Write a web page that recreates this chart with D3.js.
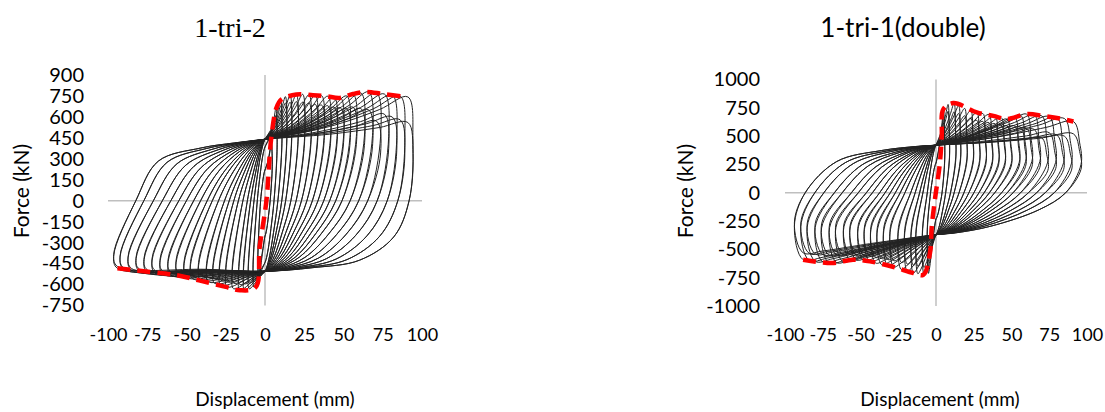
<!DOCTYPE html>
<html>
<head>
<meta charset="utf-8">
<script src="https://cdn.jsdelivr.net/npm/d3@7"></script>
<style>
  body { margin: 0; background: #fff; }
  text { font-family: Lato, "Liberation Sans", sans-serif; fill: #000; }
  .title-serif { font-family: "Liberation Serif", "Times New Roman", serif; }
</style>
</head>
<body>
<div id="chart"></div>
<script>
// tick labels
var dispTicks = [-100, -75, -50, -25, 0, 25, 50, 75, 100];
var tri2ForceTicks = [900, 750, 600, 450, 300, 150, 0, -150, -300, -450, -600, -750];
var tri1ForceTicks = [1000, 750, 500, 250, 0, -250, -500, -750, -1000];

// 1-tri-2 : cycle peaks (mm, kN)
var tri2PosDisp  = [4, 4, 7, 7, 10, 10, 13, 13, 16, 16, 20, 20, 24, 24, 28, 28, 32, 32, 36, 36, 40, 40, 44, 44, 48, 48, 52, 52, 56, 56, 61, 61, 66, 66, 71, 71, 76, 76, 81, 81, 86, 86, 91, 91];
var tri2PosForce = [430, 410, 665, 610, 724, 680, 745, 700, 755, 705, 760, 710, 762, 705, 758, 700, 755, 690, 752, 685, 748, 680, 742, 670, 738, 665, 750, 660, 764, 670, 772, 660, 779, 650, 770, 570, 764, 620, 756, 600, 750, 580, 743, 560];
var tri2NegDisp  = [-4, -4, -7, -7, -10, -10, -13, -13, -16, -16, -20, -20, -24, -24, -28, -28, -32, -32, -36, -36, -41, -41, -46, -46, -50, -50, -55, -55, -60, -60, -65, -65, -70, -70, -75, -75, -80, -80, -85, -85, -90, -90, -94, -94];
var tri2NegForce = [-560, -520, -620, -580, -630, -590, -640, -595, -641, -600, -630, -590, -617, -580, -605, -570, -592, -560, -580, -550, -568, -540, -558, -530, -548, -525, -538, -515, -532, -510, -525, -505, -518, -500, -512, -495, -505, -490, -498, -485, -490, -480, -484, -470];
var tri2Pinch = [440, -505];
// skeleton (red dashed)
var tri2EnvDisp  = [-94, -73, -56, -42, -25, -16, -6, -3.4, 0.9, 4, 7.3, 10.4, 20, 30.6, 39, 47.6, 56, 64.6, 75, 90];
var tri2EnvForce = [-484, -510, -534, -570, -617, -641, -620, -332, 0, 451, 665, 724, 760, 755, 748, 736, 764, 779, 764, 743];

// 1-tri-1(double)
var tri1PosDisp  = [5, 5, 8, 8, 12, 12, 15, 15, 19, 19, 23, 23, 27, 27, 31, 31, 35, 35, 39, 39, 43, 43, 47, 47, 52, 52, 56, 56, 60, 60, 65, 65, 70, 70, 75, 75, 80, 80, 85, 85, 91, 91];
var tri1PosForce = [738, 680, 780, 720, 792, 715, 770, 700, 745, 680, 725, 660, 709, 640, 700, 630, 690, 620, 679, 610, 665, 600, 650, 590, 670, 590, 685, 580, 694, 570, 688, 560, 679, 485, 672, 530, 664, 510, 656, 500, 629, 520];
var tri1NegDisp  = [-5, -5, -8, -8, -12, -12, -15, -15, -19, -19, -23, -23, -28, -28, -32, -32, -36, -36, -40, -40, -44, -44, -48, -48, -53, -53, -57, -57, -62, -62, -66, -66, -71, -71, -75, -75, -80, -80, -84, -84, -88, -88];
var tri1NegForce = [-712, -650, -724, -660, -715, -650, -709, -640, -695, -630, -678, -615, -656, -600, -645, -590, -635, -580, -620, -570, -608, -560, -600, -555, -592, -550, -595, -545, -605, -545, -615, -550, -621, -550, -612, -545, -605, -540, -598, -535, -591, -530];
var tri1Pinch = [420, -370];
var tri1EnvDisp  = [-88, -69, -55, -43.7, -28, -15, -8.4, -4, -2.8, -0.7, 2.6, 3.8, 4.9, 11.5, 27, 38, 46.8, 60, 71, 82, 91];
var tri1EnvForce = [-591, -621, -591, -606, -656, -709, -724, -532, -296, -59, 266, 502, 738, 792, 709, 679, 650, 694, 679, 656, 629];

var svgWidth = 1105;
var svgHeight = 412;

var svg = d3.select("#chart")
  .append("svg")
  .attr("width", svgWidth)
  .attr("height", svgHeight);

// small cycles are slim and slanted, the biggest ones get rounder
function mix(a, b, w) { return a + (b - a) * w; }

// loop outline for one cycle, built from its peaks and the pinch points
function tri2Loop(P, Fp, N, Fn, ft, fb) {
  var wp = Math.pow(Math.min(1, P / 95), 2.5);
  var wn = Math.pow(Math.min(1, -N / 95), 2.5);
  var zp = mix(0.82, 1.03, wp) * P;   // where unloading crosses zero
  var zn = mix(0.7, 0.88, wn) * N;    // where reloading crosses zero
  return [
    [0, ft],
    [0.45 * P, ft + 0.3 * (Fp - ft)],
    [0.8 * P, ft + 0.7 * (Fp - ft)],
    [P, Fp],
    [1.03 * P + 0.5, 0.6 * Fp],
    [zp, 0],
    [mix(0.66, 0.92, wp) * zp, mix(0.45, 0.52, wp) * fb],
    [mix(0.36, 0.69, wp) * zp, mix(0.78, 0.85, wp) * fb],
    [mix(0.12, 0.35, wp) * zp, 0.95 * fb],
    [0, fb],
    [0.4 * N, fb + 0.4 * (Fn - fb)],
    [N, Fn],
    [1.02 * N - 0.5, 0.82 * Fn],
    [zn, 0],
    [mix(0.66, 0.83, wn) * zn, mix(0.45, 0.65, wn) * ft],
    [mix(0.36, 0.5, wn) * zn, mix(0.78, 0.86, wn) * ft],
    [mix(0.12, 0.24, wn) * zn, mix(0.95, 0.94, wn) * ft]
  ];
}

function tri1Loop(P, Fp, N, Fn, ft, fb) {
  var wp = Math.pow(Math.min(1, P / 95), 2.5);
  var wn = Math.pow(Math.min(1, -N / 95), 2.5);
  var zp = mix(0.8, 0.96, wp) * P;
  var zn = mix(0.72, 1.04, wn) * N;
  return [
    [0, ft],
    [0.45 * P, ft + 0.35 * (Fp - ft)],
    [0.8 * P, ft + 0.75 * (Fp - ft)],
    [P, Fp],
    [1.04 * P + 0.5, 0.7 * Fp],
    [1.05 * P + 0.5, 0.4 * Fp],
    [zp, 0],
    [mix(0.66, 0.81, wp) * zp, mix(0.45, 0.4, wp) * fb],
    [mix(0.36, 0.43, wp) * zp, mix(0.78, 0.8, wp) * fb],
    [mix(0.12, 0.15, wp) * zp, mix(0.95, 0.96, wp) * fb],
    [0, fb],
    [0.5 * N, fb + 0.5 * (Fn - fb)],
    [0.85 * N, fb + 0.9 * (Fn - fb)],
    [N, Fn],
    [1.06 * N - 0.5, 0.5 * Fn],
    [zn, 0],
    [mix(0.66, 0.78, wn) * zn, mix(0.45, 0.7, wn) * ft],
    [mix(0.36, 0.43, wn) * zn, mix(0.78, 0.91, wn) * ft],
    [mix(0.12, 0.15, wn) * zn, mix(0.95, 0.98, wn) * ft]
  ];
}

function drawPanel(p) {
  var x = d3.scaleLinear().domain([-100, 100]).range(p.xRange);
  var y = d3.scaleLinear().domain(p.yDomain).range(p.yRange);
  var g = svg.append("g");

  // zero lines
  g.append("line")
    .attr("x1", x(-100)).attr("x2", x(100))
    .attr("y1", y(0)).attr("y2", y(0))
    .attr("stroke", "#bfbfbf").attr("stroke-width", 1.5);
  g.append("line")
    .attr("x1", x(0)).attr("x2", x(0))
    .attr("y1", y(p.yDomain[1])).attr("y2", y(p.yDomain[0]))
    .attr("stroke", "#bfbfbf").attr("stroke-width", 1.5);

  // hysteresis loops
  var loopLine = d3.line()
    .x(d => x(d[0]))
    .y(d => y(d[1]))
    .curve(d3.curveCatmullRomClosed.alpha(0.5));

  var loops = p.posDisp.map(function(P, i) {
    var N = p.negDisp[i];
    var ft = p.pinch[0] * Math.min(1, P / 8);
    var fb = p.pinch[1] * Math.min(1, -N / 8);
    return p.shape(P, p.posForce[i], N, p.negForce[i], ft, fb);
  });

  g.selectAll("path.loop")
    .data(loops)
    .enter()
    .append("path")
    .attr("class", "loop")
    .attr("d", loopLine)
    .attr("fill", "none")
    .attr("stroke", "#222")
    .attr("stroke-width", 1);

  // skeleton curve
  var env = p.envDisp.map((d, i) => [d, p.envForce[i]]);
  g.append("path")
    .datum(env)
    .attr("d", d3.line().x(d => x(d[0])).y(d => y(d[1])).curve(d3.curveCatmullRom.alpha(0.5)))
    .attr("fill", "none")
    .attr("stroke", "#ff0000")
    .attr("stroke-width", 4.5)
    .attr("stroke-dasharray", "13,7");

  // axes (labels only, Excel style)
  var leftAxis = d3.axisLeft(y).tickValues(p.yTicks).tickSize(0).tickPadding(0).tickFormat(d => String(d));
  var yAxisG = g.append("g")
    .attr("transform", `translate(${p.yLabelX}, 0)`)
    .call(leftAxis);
  yAxisG.select(".domain").remove();
  yAxisG.selectAll("text").attr("font-size", "20px").attr("font-family", "Lato, 'Liberation Sans', sans-serif").attr("fill", "#000");

  var bottomAxis = d3.axisBottom(x).tickValues(dispTicks).tickSize(0).tickPadding(0).tickFormat(d => String(d));
  var xAxisG = g.append("g")
    .attr("transform", "translate(0, 328)")
    .call(bottomAxis);
  xAxisG.select(".domain").remove();
  xAxisG.selectAll("text").attr("font-size", "18px").attr("font-family", "Lato, 'Liberation Sans', sans-serif").attr("fill", "#000");

  // axis titles
  g.append("text")
    .attr("transform", `translate(${p.forceLabelX}, 191) rotate(-90)`)
    .attr("text-anchor", "middle")
    .attr("dy", "0.35em")
    .attr("font-size", "21px")
    .text("Force (kN)");

  g.append("text")
    .attr("x", p.dispLabelX)
    .attr("y", 406)
    .attr("text-anchor", "middle")
    .attr("font-size", "19px")
    .text("Displacement (mm)");

  g.append("text")
    .attr("class", p.titleClass)
    .attr("x", p.titleX)
    .attr("y", 36.5)
    .attr("text-anchor", "middle")
    .attr("font-size", p.titleSize)
    .text(p.title);
}

drawPanel({
  title: "1-tri-2", titleClass: "title-serif", titleSize: "28px", titleX: 230,
  xRange: [108, 422], yDomain: [-750, 900], yRange: [305.5, 75],
  yTicks: tri2ForceTicks, yLabelX: 84, forceLabelX: 22, dispLabelX: 275,
  posDisp: tri2PosDisp, posForce: tri2PosForce, negDisp: tri2NegDisp, negForce: tri2NegForce,
  pinch: tri2Pinch, shape: tri2Loop, envDisp: tri2EnvDisp, envForce: tri2EnvForce
});

drawPanel({
  title: "1-tri-1(double)", titleClass: "", titleSize: "26px", titleX: 903,
  xRange: [785, 1087], yDomain: [-1000, 1000], yRange: [306, 79.5],
  yTicks: tri1ForceTicks, yLabelX: 760, forceLabelX: 686, dispLabelX: 940,
  posDisp: tri1PosDisp, posForce: tri1PosForce, negDisp: tri1NegDisp, negForce: tri1NegForce,
  pinch: tri1Pinch, shape: tri1Loop, envDisp: tri1EnvDisp, envForce: tri1EnvForce
});
</script>
</body>
</html>
